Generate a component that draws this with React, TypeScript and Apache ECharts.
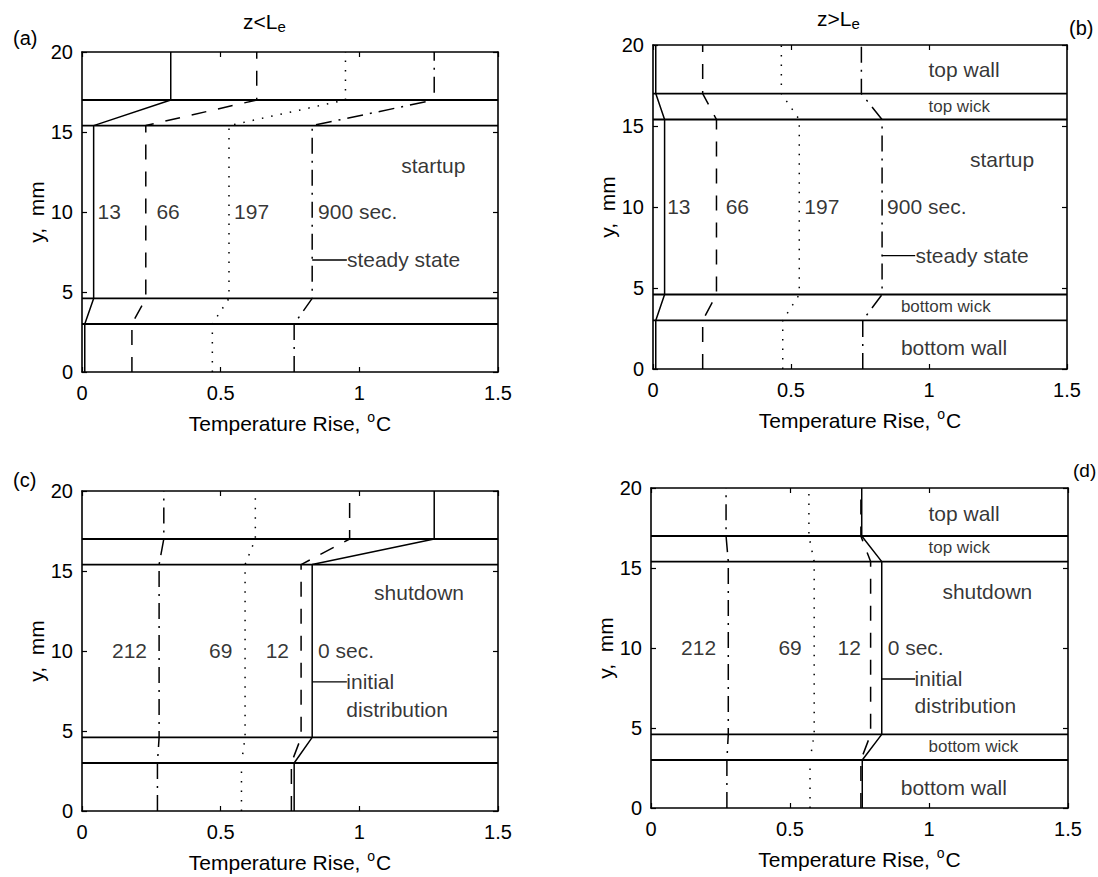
import React, { useEffect, useRef } from "react";
import * as echarts from "echarts";

// ---- data ----
const X_MIN = 0;
const X_MAX = 1.5;
const Y_MIN = 0;
const Y_MAX = 20;
const X_INTERVAL = 0.5;
const Y_INTERVAL = 5;

// y positions (mm) where each profile is sampled: bottom, wall/wick, wick/vapor, vapor/wick, wick/wall, top
const LAYER_Y = [0, 3.0, 4.6, 15.4, 17.0, 20];
// horizontal layer boundaries
const BOUNDARY_Y = [3.0, 4.6, 15.4, 17.0];

// (a) startup, z < Le : temperature rise at LAYER_Y
const A_13 = [0.01, 0.01, 0.042, 0.042, 0.32, 0.32];
const A_66 = [0.18, 0.18, 0.23, 0.23, 0.63, 0.63];
const A_197 = [0.47, 0.47, 0.53, 0.53, 0.95, 0.95];
const A_900 = [0.765, 0.765, 0.83, 0.83, 1.27, 1.27];

// (b) startup, z > Le
const B_13 = [0.01, 0.01, 0.042, 0.042, 0.01, 0.01];
const B_66 = [0.18, 0.18, 0.23, 0.23, 0.18, 0.18];
const B_197 = [0.47, 0.47, 0.53, 0.53, 0.465, 0.465];
const B_900 = [0.76, 0.76, 0.83, 0.83, 0.755, 0.755];

// (c) shutdown, z < Le
const C_0 = [0.765, 0.765, 0.83, 0.83, 1.27, 1.27];
const C_12 = [0.755, 0.755, 0.79, 0.79, 0.965, 0.965];
const C_69 = [0.575, 0.575, 0.588, 0.588, 0.625, 0.625];
const C_212 = [0.272, 0.272, 0.278, 0.278, 0.295, 0.295];

// (d) shutdown, z > Le
const D_0 = [0.76, 0.76, 0.83, 0.83, 0.758, 0.758];
const D_12 = [0.755, 0.755, 0.79, 0.79, 0.755, 0.755];
const D_69 = [0.572, 0.572, 0.587, 0.587, 0.568, 0.568];
const D_212 = [0.273, 0.273, 0.278, 0.278, 0.27, 0.27];

// leader lines [x0, x1, y]
const A_LEADER = [0.83, 0.955, 7.0];
const B_LEADER = [0.83, 0.95, 7.0];
const C_LEADER = [0.83, 0.955, 8.07];
const D_LEADER = [0.83, 0.95, 8.06];

// annotations: [text, x, y, small]
const A_NOTES: [string, number, number, boolean][] = [
  ["13", 0.058, 10, false],
  ["66", 0.27, 10, false],
  ["197", 0.55, 10, false],
  ["900 sec.", 0.853, 10, false],
  ["startup", 1.153, 12.9, false],
  ["steady state", 0.957, 7.0, false],
];
const B_NOTES: [string, number, number, boolean][] = [
  ["13", 0.053, 10, false],
  ["66", 0.265, 10, false],
  ["197", 0.55, 10, false],
  ["900 sec.", 0.85, 10, false],
  ["startup", 1.15, 12.9, false],
  ["steady state", 0.953, 7.0, false],
  ["top wall", 1.0, 18.45, false],
  ["top wick", 1.0, 16.2, true],
  ["bottom wick", 0.9, 3.8, true],
  ["bottom wall", 0.9, 1.3, false],
];
const C_NOTES: [string, number, number, boolean][] = [
  ["212", 0.11, 10, false],
  ["69", 0.46, 10, false],
  ["12", 0.664, 10, false],
  ["0 sec.", 0.853, 10, false],
  ["shutdown", 1.055, 13.6, false],
  ["initial", 0.955, 8.07, false],
  ["distribution", 0.955, 6.3, false],
];
const D_NOTES: [string, number, number, boolean][] = [
  ["212", 0.11, 10, false],
  ["69", 0.46, 10, false],
  ["12", 0.673, 10, false],
  ["0 sec.", 0.853, 10, false],
  ["shutdown", 1.05, 13.5, false],
  ["initial", 0.95, 8.06, false],
  ["distribution", 0.95, 6.35, false],
  ["top wall", 1.0, 18.4, false],
  ["top wick", 1.0, 16.25, true],
  ["bottom wick", 1.0, 3.8, true],
  ["bottom wall", 0.9, 1.25, false],
];

// ---- styles / layout ----
const FONT = "'Liberation Sans', Arial, Helvetica, sans-serif";
const DASH = {
  solid: "solid",
  dashed: [15, 12],
  dotted: [1.5, 8],
  dashdot: [16, 7, 2, 7],
};

type Panel = {
  grid: { left: number; top: number; width: number; height: number };
  profiles: { x: number[]; dash: any }[];
  leader: number[];
  notes: [string, number, number, boolean][];
};

const PANELS: Panel[] = [
  {
    grid: { left: 82, top: 52, width: 416, height: 320 },
    profiles: [
      { x: A_13, dash: DASH.solid },
      { x: A_66, dash: DASH.dashed },
      { x: A_197, dash: DASH.dotted },
      { x: A_900, dash: DASH.dashdot },
    ],
    leader: A_LEADER,
    notes: A_NOTES,
  },
  {
    grid: { left: 653, top: 45, width: 414, height: 324 },
    profiles: [
      { x: B_13, dash: DASH.solid },
      { x: B_66, dash: DASH.dashed },
      { x: B_197, dash: DASH.dotted },
      { x: B_900, dash: DASH.dashdot },
    ],
    leader: B_LEADER,
    notes: B_NOTES,
  },
  {
    grid: { left: 82, top: 491, width: 416, height: 320 },
    profiles: [
      { x: C_0, dash: DASH.solid },
      { x: C_12, dash: DASH.dashed },
      { x: C_69, dash: DASH.dotted },
      { x: C_212, dash: DASH.dashdot },
    ],
    leader: C_LEADER,
    notes: C_NOTES,
  },
  {
    grid: { left: 651, top: 488, width: 417, height: 320 },
    profiles: [
      { x: D_0, dash: DASH.solid },
      { x: D_12, dash: DASH.dashed },
      { x: D_69, dash: DASH.dotted },
      { x: D_212, dash: DASH.dashdot },
    ],
    leader: D_LEADER,
    notes: D_NOTES,
  },
];

function buildOption() {
  const grid: any[] = [];
  const xAxis: any[] = [];
  const yAxis: any[] = [];
  const series: any[] = [];
  const axisLine = { show: true, onZero: false, lineStyle: { color: "#000", width: 1.6 } };
  const tick = { show: true, inside: true, length: 5, lineStyle: { color: "#000", width: 1.2 } };
  const labelStyle = { color: "#000", fontFamily: FONT, fontSize: 20 };

  PANELS.forEach((p, i) => {
    grid.push({ ...p.grid, containLabel: false });
    const xBase = {
      type: "value",
      gridIndex: i,
      min: X_MIN,
      max: X_MAX,
      interval: X_INTERVAL,
      splitLine: { show: false },
      axisLine,
      axisTick: tick,
    };
    const yBase = {
      type: "value",
      gridIndex: i,
      min: Y_MIN,
      max: Y_MAX,
      interval: Y_INTERVAL,
      splitLine: { show: false },
      axisLine,
      axisTick: tick,
    };
    xAxis.push({
      ...xBase,
      position: "bottom",
      axisLabel: { ...labelStyle, margin: 11 },
      name: "Temperature Rise, {sup|o}C",
      nameLocation: "middle",
      nameGap: 38,
      nameTextStyle: {
        color: "#000",
        fontFamily: FONT,
        fontSize: 21,
        rich: {
          sup: { fontSize: 14, fontFamily: FONT, color: "#000", padding: [0, 1, 12, 1] },
        },
      },
    });
    xAxis.push({ ...xBase, position: "top", axisLabel: { show: false } });
    yAxis.push({
      ...yBase,
      position: "left",
      axisLabel: { ...labelStyle, margin: 9 },
      name: "y,  mm",
      nameLocation: "middle",
      nameGap: 34,
      nameTextStyle: { color: "#000", fontFamily: FONT, fontSize: 21 },
    });
    yAxis.push({ ...yBase, position: "right", axisLabel: { show: false } });

    const xi = 2 * i;
    // layer boundaries
    BOUNDARY_Y.forEach((by) => {
      series.push({
        type: "line",
        xAxisIndex: xi,
        yAxisIndex: xi,
        data: [
          [X_MIN, by],
          [X_MAX, by],
        ],
        symbol: "none",
        silent: true,
        lineStyle: { color: "#000", width: 1.8, type: "solid" },
      });
    });
    // profiles
    p.profiles.forEach((pr) => {
      series.push({
        type: "line",
        xAxisIndex: xi,
        yAxisIndex: xi,
        data: pr.x.map((v, k) => [v, LAYER_Y[k]]),
        symbol: "none",
        silent: true,
        lineStyle: { color: "#000", width: 1.5, type: pr.dash },
      });
    });
    // leader line
    series.push({
      type: "line",
      xAxisIndex: xi,
      yAxisIndex: xi,
      data: [
        [p.leader[0], p.leader[2]],
        [p.leader[1], p.leader[2]],
      ],
      symbol: "none",
      silent: true,
      lineStyle: { color: "#000", width: 1.4, type: "solid" },
    });
    // annotations
    series.push({
      type: "scatter",
      xAxisIndex: xi,
      yAxisIndex: xi,
      symbolSize: 1,
      silent: true,
      itemStyle: { color: "rgba(0,0,0,0)" },
      label: {
        show: true,
        position: [0, 0],
        align: "left",
        verticalAlign: "middle",
        formatter: "{b}",
        color: "#000",
        fontFamily: FONT,
        fontSize: 21,
      },
      data: p.notes.map(([t, x, y, small]) => ({
        name: t,
        value: [x, y],
        label: small ? { fontSize: 17 } : undefined,
      })),
    });
  });

  const txt = { fill: "#000", fontFamily: FONT, fontSize: 20 };
  const sub = { fontSize: 15, fontFamily: FONT, fill: "#000", padding: [10, 0, 0, 0] };
  const graphic: any[] = [
    { type: "text", left: 13, top: 28, style: { ...txt, text: "(a)" } },
    { type: "text", left: 1069, top: 18, style: { ...txt, text: "(b)" } },
    { type: "text", left: 13, top: 470, style: { ...txt, text: "(c)" } },
    { type: "text", left: 1073, top: 461, style: { ...txt, fontSize: 19, text: "(d)" } },
    {
      type: "text",
      left: 243,
      top: 11,
      style: { ...txt, fontSize: 21, text: "z<L{sub|e}", rich: { sub } },
    },
    {
      type: "text",
      left: 817,
      top: 8,
      style: { ...txt, fontSize: 21, text: "z>L{sub|e}", rich: { sub } },
    },
  ];

  return {
    animation: false,
    backgroundColor: "#fff",
    grid,
    xAxis,
    yAxis,
    series,
    graphic,
  };
}

export default function App() {
  const ref = useRef<HTMLDivElement>(null);
  useEffect(() => {
    if (!ref.current) return;
    const chart = echarts.init(ref.current, undefined, { renderer: "svg" });
    chart.setOption(buildOption() as any);
    return () => chart.dispose();
  }, []);
  return (
    <div
      ref={ref}
      style={{ position: "absolute", left: 0, top: 0, width: 1098, height: 877, background: "#fff" }}
    />
  );
}
